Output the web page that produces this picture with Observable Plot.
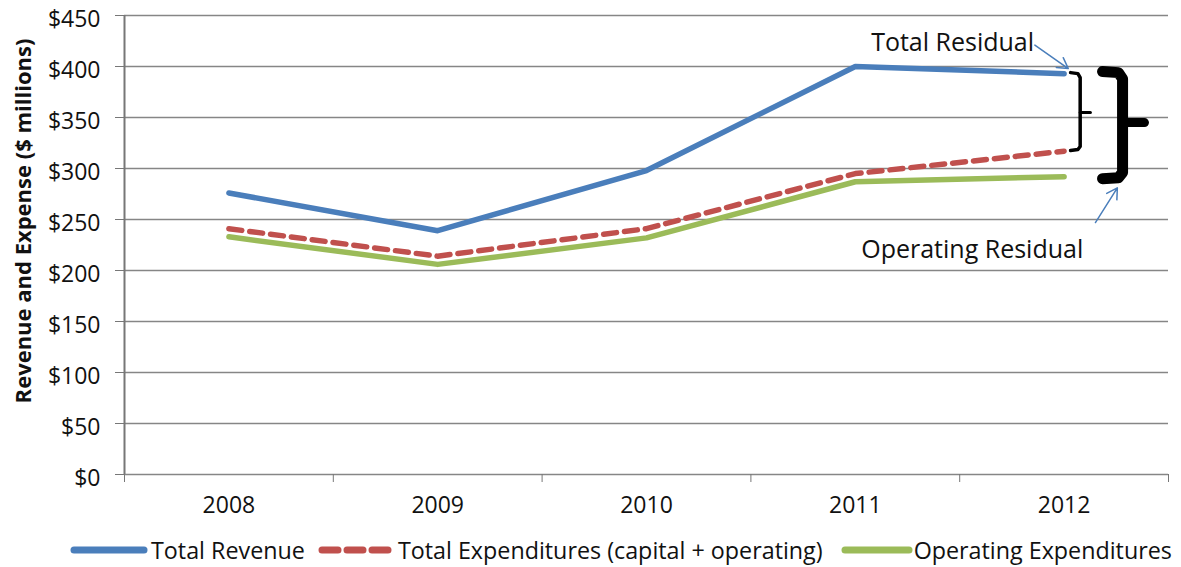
<!DOCTYPE html>
<html><head><meta charset="utf-8">
<script src="https://cdn.jsdelivr.net/npm/d3@7"></script>
<script src="https://cdn.jsdelivr.net/npm/@observablehq/plot@0.6"></script>
<style>
body{margin:0;background:#fff;font-family:"Open Sans",sans-serif;}
#wrap{position:relative;width:1181px;height:567px;overflow:hidden;}
#chart{position:absolute;left:0;top:0;}
#legend{position:absolute;left:70px;top:534px;display:flex;align-items:center;font-size:23.3px;color:#111;white-space:nowrap;}
#legend .item{display:flex;align-items:center;}
#legend svg{display:block;}
</style></head><body><div id="wrap"><div id="chart"></div><div id="legend"></div></div>
<script>
// ---- data ----
const years = [2008, 2009, 2010, 2011, 2012];
const totalRevenue = [276, 239, 298, 400, 393];
const totalExpenditures = [241, 214, 241, 295, 317];
const operatingExpenditures = [233, 206, 232, 287, 292];
const seriesNames = ["Total Revenue", "Total Expenditures (capital + operating)", "Operating Expenditures"];
const seriesColors = ["#4a7ebb", "#c0504d", "#9bbb59"];
const yTicks = [0, 50, 100, 150, 200, 250, 300, 350, 400, 450];
const yLabel = "Revenue and Expense ($ millions)";
const annotationTexts = ["Total Residual", "Operating Residual"];

// ---- build ----
const boundaries = [...years.map(y => y - 0.5), years[years.length - 1] + 0.5];
const rows = (vals) => years.map((yr, i) => ({year: yr, value: vals[i]}));
const rev = rows(totalRevenue), exp = rows(totalExpenditures), op = rows(operatingExpenditures);

// bracket shapes (annotation geometry in data units)
const smallBracket = [
  {x: 2012.031, y: 394}, {x: 2012.066, y: 393}, {x: 2012.077, y: 389},
  {x: 2012.077, y: 321.6}, {x: 2012.066, y: 318.6}, {x: 2012.031, y: 317.6}
];
const smallTick = [{x: 2012.077, y: 355}, {x: 2012.126, y: 355}];
const bigBracket = [
  {x: 2012.184, y: 395}, {x: 2012.26, y: 394}, {x: 2012.28, y: 388},
  {x: 2012.28, y: 296}, {x: 2012.26, y: 291}, {x: 2012.184, y: 290}
];
const bigTick = [{x: 2012.28, y: 345}, {x: 2012.385, y: 345}];
const arrows = [
  {x1: 2011.86, y1: 421, x2: 2012.02, y2: 398},
  {x1: 2012.15, y1: 247, x2: 2012.255, y2: 281}
];
const labels = [
  {x: 2011.466, y: 423, text: annotationTexts[0]},
  {x: 2011.56, y: 220, text: annotationTexts[1]}
];

const chart = Plot.plot({
  width: 1181,
  height: 530,
  marginLeft: 124,
  marginRight: 13,
  marginTop: 15,
  marginBottom: 56,
  style: {fontFamily: "'Open Sans', sans-serif", fontSize: "23px", color: "#111", background: "#fff", overflow: "visible"},
  x: {domain: [boundaries[0], boundaries[boundaries.length - 1]], axis: null},
  y: {domain: [0, 450], axis: null},
  marks: [
    Plot.gridY(yTicks, {stroke: "#868686", strokeOpacity: 1, strokeWidth: 1.5}),
    Plot.axisY({ticks: yTicks, tickFormat: () => "", tickSize: 9, stroke: "#777", label: null}),
    Plot.axisY({ticks: yTicks, tickFormat: d => "$" + d, tickSize: 0, tickPadding: 24, dy: 4, fontSize: 23, label: null}),
    Plot.axisX({ticks: boundaries, tickFormat: () => "", tickSize: 8, stroke: "#777", label: null}),
    Plot.axisX({ticks: years, tickFormat: d => String(d), tickSize: 0, tickPadding: 22, fontSize: 23, label: null}),
    Plot.ruleX([boundaries[0]], {y1: 0, y2: 450, stroke: "#777", strokeWidth: 2}),
    Plot.text([yLabel], {frameAnchor: "left", textAnchor: "middle", dx: -101, dy: -24, rotate: -90, fontWeight: "bold", fontSize: 22, fill: "#111"}),
    Plot.line(rev, {x: "year", y: "value", stroke: seriesColors[0], strokeWidth: 5.5}),
    Plot.line(exp, {x: "year", y: "value", stroke: seriesColors[1], strokeWidth: 5.5, strokeDasharray: "13,8"}),
    Plot.line(op, {x: "year", y: "value", stroke: seriesColors[2], strokeWidth: 5.5}),
    Plot.line(smallBracket, {x: "x", y: "y", stroke: "#000", strokeWidth: 3.5, strokeLinejoin: "round"}),
    Plot.line(smallTick, {x: "x", y: "y", stroke: "#000", strokeWidth: 3}),
    Plot.line(bigBracket, {x: "x", y: "y", stroke: "#000", strokeWidth: 11, strokeLinejoin: "round"}),
    Plot.line(bigTick, {x: "x", y: "y", stroke: "#000", strokeWidth: 9, strokeLinecap: "round"}),
    Plot.arrow(arrows, {x1: "x1", y1: "y1", x2: "x2", y2: "y2", stroke: "#4a7ebb", strokeWidth: 1.5, headLength: 12}),
    Plot.text(labels, {x: "x", y: "y", text: "text", fontSize: 25, fill: "#111"})
  ]
});
document.getElementById("chart").appendChild(chart);

// ---- legend ----
const legend = document.getElementById("legend");
const swatchSpecs = [
  {w: 78, dash: null, gapBefore: 3, gapAfter: 13},
  {w: 74, dash: "16,9", gapBefore: 6, gapAfter: 18},
  {w: 72, dash: null, gapBefore: 1, gapAfter: 0}
];
seriesNames.forEach((name, i) => {
  const item = document.createElement("div");
  item.className = "item";
  const s = swatchSpecs[i];
  const svg = d3.create("svg").attr("width", s.w).attr("height", 14);
  svg.append("line").attr("x1", 4).attr("x2", s.w - 4).attr("y1", 7).attr("y2", 7)
    .attr("stroke", seriesColors[i]).attr("stroke-width", 7).attr("stroke-linecap", "round")
    .attr("stroke-dasharray", s.dash);
  item.appendChild(svg.node());
  const t = document.createElement("span");
  t.textContent = name;
  t.style.marginLeft = s.gapBefore + "px";
  t.style.marginRight = s.gapAfter + "px";
  item.appendChild(t);
  legend.appendChild(item);
});
</script></body></html>
